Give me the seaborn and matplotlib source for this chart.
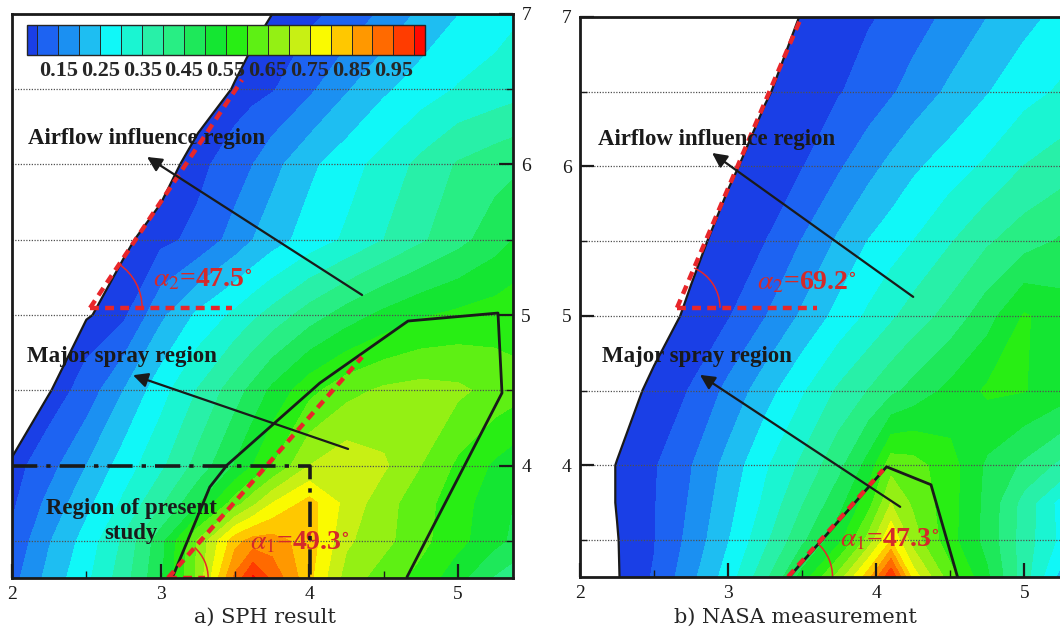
import numpy as np
import matplotlib
matplotlib.use("Agg")
import matplotlib.pyplot as plt
from matplotlib.patches import Arc
from matplotlib.ticker import MultipleLocator
import seaborn as sns

sns.set_theme(style="white")
plt.rcParams['font.family'] = ['Liberation Serif', 'DejaVu Serif']
plt.rcParams['mathtext.fontset'] = 'stix'

# contour levels / colour bands (Tecplot rainbow)
levels = [0.075, 0.10, 0.15, 0.20, 0.25, 0.30, 0.35, 0.40, 0.45, 0.50, 0.55,
          0.60, 0.65, 0.70, 0.75, 0.80, 0.85, 0.90, 0.95, 1.00, 1.025]
band_colors = ['#1a3fe6', '#1d63f2', '#1b90f2', '#1ebef2', '#10f8f8', '#1af5d2',
               '#28f0a8', '#28ee84', '#1ee85a', '#14e632', '#28ee14', '#5ef014',
               '#94f014', '#c8f014', '#fafa00', '#ffc800', '#ff9800', '#ff6a00',
               '#ff3c00', '#ff0a00']
cbar_ticks = [0.15, 0.25, 0.35, 0.45, 0.55, 0.65, 0.75, 0.85, 0.95]

# a) SPH result
sph_x = [2.0, 2.25, 2.5, 2.75, 3.0, 3.25, 3.5, 3.62, 3.75, 4.0, 4.25, 4.5, 4.75, 5.0, 5.25, 5.5]
sph_y = [3.25, 3.5, 3.75, 4.0, 4.5, 5.0, 5.5, 6.0, 6.5, 7.0]
sph_z = [
    [.132, .217, .288, .377, .491, .663, .913, 1.01, .938, .813, .677, .625, .583, .515, .443, .396],
    [.110, .196, .270, .358, .479, .656, .831, .869, .871, .827, .709, .665, .614, .565, .515, .463],
    [.091, .164, .235, .309, .390, .495, .625, .685, .750, .820, .733, .670, .620, .570, .522, .476],
    [.080, .131, .200, .273, .339, .417, .504, .550, .600, .700, .733, .708, .650, .590, .541, .497],
    [.035, .072, .120, .200, .280, .353, .428, .465, .511, .584, .633, .659, .668, .660, .633, .606],
    [.003, .037, .072, .090, .188, .260, .311, .339, .368, .424, .473, .513, .544, .561, .574, .587],
    [.020, .036, .053, .070, .087, .113, .170, .200, .228, .271, .308, .350, .392, .433, .478, .524],
    [-.038, -.013, .012, .037, .062, .087, .125, .150, .183, .239, .279, .319, .363, .405, .429, .452],
    [-.037, -.018, .001, .020, .039, .058, .077, .086, .096, .140, .195, .241, .275, .304, .321, .339],
    [-.033, -.018, -.002, .013, .028, .044, .059, .067, .075, .090, .115, .161, .211, .249, .277, .304],
]
sph_region_x = [3.076, 3.33, 3.446, 4.07, 4.663, 5.268, 5.295, 4.656]
sph_region_y = [3.25, 3.857, 4.003, 4.548, 4.96, 5.013, 4.482, 3.259]

# b) NASA measurement
nasa_x = [2.0, 2.25, 2.5, 2.75, 3.0, 3.25, 3.5, 3.75, 3.95, 4.1, 4.25, 4.5, 4.75, 5.0, 5.3]
nasa_y = [3.25, 3.5, 3.75, 4.0, 4.5, 5.0, 5.5, 6.0, 6.5, 7.0]
nasa_z = [
    [.044, .073, .103, .186, .273, .386, .519, .675, .836, 1.00, .780, .621, .509, .372, .200],
    [.050, .074, .098, .166, .247, .338, .438, .536, .670, .800, .675, .567, .481, .375, .270],
    [.055, .076, .097, .156, .231, .310, .396, .481, .580, .700, .640, .570, .484, .380, .260],
    [.055, .076, .095, .148, .217, .292, .360, .436, .520, .630, .620, .570, .490, .440, .375],
    [.042, .062, .081, .102, .163, .228, .293, .359, .402, .436, .467, .514, .558, .552, .520],
    [.030, .047, .063, .080, .096, .148, .208, .267, .309, .341, .372, .419, .479, .555, .520],
    [.021, .037, .053, .068, .084, .099, .152, .209, .252, .276, .300, .346, .393, .428, .462],
    [.015, .029, .043, .057, .071, .085, .098, .144, .184, .213, .241, .275, .309, .351, .381],
    [.013, .025, .037, .049, .061, .073, .085, .097, .120, .144, .169, .210, .247, .282, .312],
    [.009, .020, .031, .042, .053, .064, .076, .087, .096, .107, .128, .163, .200, .235, .270],
]
nasa_region_x = [3.41, 4.07, 4.37, 4.55]
nasa_region_y = [3.25, 3.99, 3.87, 3.25]

RED = '#e8262a'
DASH = (0, (2.0, 1.4))

fig = plt.figure(figsize=(10.6, 6.32), dpi=100)
ax1 = fig.add_axes([0.01132, 0.08544, 0.47264, 0.89241])
ax2 = fig.add_axes([0.5472, 0.08703, 0.4550, 0.88608])


def draw_field(ax, x, y, z, xlim):
    cf = ax.contourf(x, y, np.array(z), levels=levels, colors=band_colors, zorder=1)
    ax.contour(x, y, np.array(z), levels=[0.075], colors='k', linewidths=1.6, zorder=2)
    ax.set_xlim(*xlim)
    ax.set_ylim(3.2525, 7.0)
    ax.xaxis.set_major_locator(MultipleLocator(1))
    ax.xaxis.set_minor_locator(MultipleLocator(0.5))
    ax.yaxis.set_major_locator(MultipleLocator(1))
    ax.yaxis.set_minor_locator(MultipleLocator(0.5))
    ax.set_axisbelow(False)
    ax.grid(axis='y', which='both', color='#505050', linestyle=(0, (1, 1.2)), lw=0.9, zorder=2)
    ax.grid(axis='x', which='both', visible=False)
    for s in ax.spines.values():
        s.set_color('k')
        s.set_linewidth(2)
        s.set_zorder(6)
    ax.tick_params(which='major', direction='in', length=10, width=1.6, colors='k',
                   labelsize=14, pad=6)
    ax.tick_params(which='minor', direction='in', length=5, width=1.0, colors='k')
    ax.tick_params(axis='x', which='both', top=False, bottom=True)
    return cf


def draw_angle(ax, p0, p1, xend, r, theta, label, lx, ly):
    sns.lineplot(x=[p0[0], p1[0]], y=[p0[1], p1[1]], sort=False, estimator=None,
                 color=RED, lw=3.2, linestyle=DASH, ax=ax, zorder=5)
    sns.lineplot(x=[p0[0], xend], y=[p0[1], p0[1]], sort=False, estimator=None,
                 color=RED, lw=3.2, linestyle=DASH, ax=ax, zorder=5)
    ax.add_patch(Arc(p0, 2 * r, 2 * r, theta1=0, theta2=theta, color=RED, lw=1.1, zorder=5))
    ax.text(lx, ly, label, color='#d42a2a', fontsize=20, fontweight='bold',
            ha='left', va='center', zorder=5)


def label(ax, x, y, s, **kw):
    ax.text(x, y, s, fontsize=16.5, fontweight='bold', color='k', zorder=7, **kw)


def arrow(ax, tail, head):
    ax.annotate('', xy=head, xytext=tail, zorder=7,
                arrowprops=dict(arrowstyle='-|>', color='k', lw=1.6, mutation_scale=22,
                                shrinkA=0, shrinkB=0))


# ---- a) SPH result
cf1 = draw_field(ax1, sph_x, sph_y, sph_z, (2.0, 5.369))
ax1.yaxis.tick_right()
ax1.tick_params(axis='y', which='both', left=False, right=True, labelleft=False, labelright=True)

sns.lineplot(x=sph_region_x, y=sph_region_y, sort=False, estimator=None,
             color='k', lw=2.0, ax=ax1, zorder=4)
sns.lineplot(x=[2.0, 4.004, 4.004], y=[4.0, 4.0, 3.25], sort=False, estimator=None,
             color='k', lw=2.6, linestyle=(0, (7, 2.5, 1.2, 2.5)), ax=ax1, zorder=6)

label(ax1, 2.108, 6.176, 'Airflow influence region', ha='left', va='center')
arrow(ax1, (4.354, 5.133), (2.908, 6.05))
label(ax1, 2.10, 4.721, 'Major spray region', ha='left', va='center')
arrow(ax1, (4.26, 4.11), (2.814, 4.60))
label(ax1, 2.80, 3.631, 'Region of present\nstudy', ha='center', va='center', linespacing=1.25)

draw_angle(ax1, (2.525, 5.047), (3.547, 6.562), 3.48, 0.35, 56,
           r'$\alpha_2$=47.5$^{\circ}$', 2.948, 5.233)
draw_angle(ax1, (3.049, 3.253), (4.354, 4.721), 3.30, 0.27, 48.4,
           r'$\alpha_1$=49.3$^{\circ}$', 3.60, 3.485)

cax = ax1.inset_axes([0.030, 0.927, 0.794, 0.053])
cb = fig.colorbar(cf1, cax=cax, orientation='horizontal', ticks=cbar_ticks,
                  spacing='proportional', drawedges=True)
cb.outline.set_linewidth(1.0)
cb.dividers.set_linewidth(0.7)
cax.tick_params(length=0, pad=4)
cax.set_xticklabels([f'{t:.2f}' for t in cbar_ticks], fontsize=16, fontweight='bold')

# ---- b) NASA measurement
draw_field(ax2, nasa_x, nasa_y, nasa_z, (2.0, 5.257))
ax2.tick_params(axis='y', which='both', left=True, right=False)

sns.lineplot(x=nasa_region_x, y=nasa_region_y, sort=False, estimator=None,
             color='k', lw=2.0, ax=ax2, zorder=4)

label(ax2, 2.12, 6.18, 'Airflow influence region', ha='left', va='center')
arrow(ax2, (4.25, 5.127), (2.892, 6.09))
label(ax2, 2.15, 4.726, 'Major spray region', ha='left', va='center')
arrow(ax2, (4.162, 3.722), (2.81, 4.605))

draw_angle(ax2, (2.655, 5.054), (3.486, 6.98), 3.60, 0.29, 66.7,
           r'$\alpha_2$=69.2$^{\circ}$', 3.196, 5.221)
draw_angle(ax2, (3.405, 3.254), (4.047, 3.97), 3.405, 0.30, 48,
           r'$\alpha_1$=47.3$^{\circ}$', 3.757, 3.502)

for a in (ax1, ax2):
    a.set_xlabel('')
    a.set_ylabel('')

fig.text(0.25, 0.023, 'a) SPH result', ha='center', va='center', fontsize=15,
         family=['DejaVu Serif'])
fig.text(0.75, 0.023, 'b) NASA measurement', ha='center', va='center', fontsize=15,
         family=['DejaVu Serif'])

fig.savefig('out.png', dpi=100)
